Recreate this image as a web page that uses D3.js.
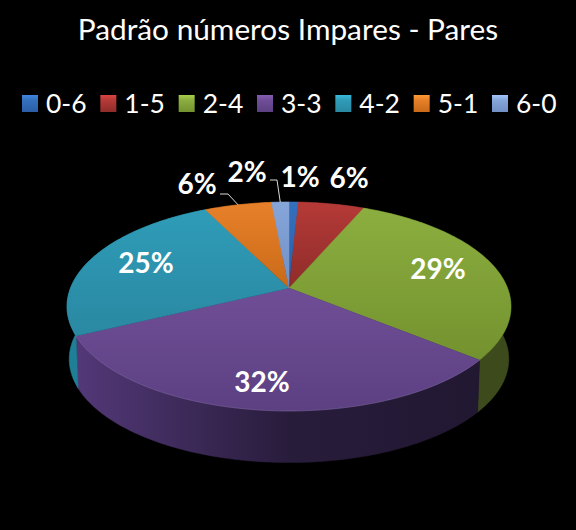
<!DOCTYPE html>
<html>
<head>
<meta charset="utf-8">
<script src="https://d3js.org/d3.v7.min.js"></script>
<style>
    html, body { margin: 0; padding: 0; background: #000; overflow: hidden; }
    text { font-family: Lato, "Open Sans", sans-serif; fill: #fff; }
</style>
</head>
<body>
<svg id="chart" width="576" height="530"></svg>
<script>
var categories = ['0-6', '1-5', '2-4', '3-3', '4-2', '5-1', '6-0'];
var values = [0.8, 5.7, 29.4, 31.9, 24.9, 5.8, 1.5];
var labels = ['1%', '6%', '29%', '32%', '25%', '6%', '2%'];

var topLight = ['#3570bd', '#b53a37', '#8cae3f', '#704e97', '#2f9cb8', '#e8802a', '#86a6da'];
var topDark = ['#2a5ea6', '#8e2c2a', '#73922f', '#5c4082', '#2a88a2', '#c96a18', '#7090c6'];
var wallLeft = ['#1f4270', '#6e2624', '#4f6124', '#54397a', '#1f7f96', '#8f4e14', '#566f96'];
var wallRight = ['#1f4270', '#6e2624', '#3c4a1c', '#201730', '#1f7f96', '#8f4e14', '#566f96'];

var labelX = [300, 349, 438, 262, 146, 197, 247];
var labelY = [187, 188, 279, 392, 273, 194, 182];

var width = 576, height = 530;
var cx = 289, cy = 288;
var radiusX = 218.5, radiusY = 101.2, tilt = 0.177;
var depth = 52.8, bottomScale = 0.99;

var svg = d3.select('#chart');
var defs = svg.append('defs');

svg.append('rect')
    .attr('width', width)
    .attr('height', height)
    .attr('fill', '#000');

// circle in the pie plane -> screen, with the front of the disc closer to the viewer
function project(angle, r) {
    var u = Math.sin(angle) * r;
    var v = -Math.cos(angle) * r;
    var w = 1 - tilt * v;
    return [cx + radiusX * u / w, cy + radiusY * v / w];
}

function lower(p) {
    return [cx + (p[0] - cx) * bottomScale, cy + (p[1] - cy) * bottomScale + depth];
}

function arcPoints(d) {
    var n = Math.max(4, Math.ceil((d.endAngle - d.startAngle) * 60));
    var angle = d3.scaleLinear().domain([0, n]).range([d.startAngle, d.endAngle]);
    return d3.range(n + 1).map(function(i) { return project(angle(i), 1); });
}

var line = d3.line();

var pie = d3.pie()
    .sort(null)
    .value(function(d) { return d; });

var slices = pie(values);

// gradients
categories.forEach(function(c, i) {
    var top = defs.append('linearGradient')
        .attr('id', 'top' + i)
        .attr('x1', 0).attr('x2', 0).attr('y1', 0).attr('y2', 1);
    top.append('stop').attr('offset', '0').attr('stop-color', topLight[i]);
    top.append('stop').attr('offset', '1').attr('stop-color', topDark[i]);

    var wall = defs.append('linearGradient')
        .attr('id', 'wall' + i)
        .attr('gradientUnits', 'userSpaceOnUse')
        .attr('x1', 70).attr('x2', 510).attr('y1', 0).attr('y2', 0);
    wall.append('stop').attr('offset', '0').attr('stop-color', wallLeft[i]);
    wall.append('stop').attr('offset', '0.5').attr('stop-color', d3.interpolateRgb(wallLeft[i], wallRight[i])(0.85));
    wall.append('stop').attr('offset', '1').attr('stop-color', wallRight[i]);

    var box = defs.append('linearGradient')
        .attr('id', 'box' + i)
        .attr('x1', 0).attr('x2', 0).attr('y1', 0).attr('y2', 1);
    box.append('stop').attr('offset', '0').attr('stop-color', d3.color(topLight[i]).brighter(0.5));
    box.append('stop').attr('offset', '0.3').attr('stop-color', topLight[i]);
    box.append('stop').attr('offset', '1').attr('stop-color', topDark[i]);
});

// side walls
svg.selectAll('.wall')
    .data(slices)
    .enter().append('path')
    .attr('class', 'wall')
    .attr('d', function(d) {
        var pts = arcPoints(d);
        return line(pts.concat(pts.slice().reverse().map(lower))) + 'Z';
    })
    .attr('fill', function(d, i) { return 'url(#wall' + i + ')'; })
    .attr('stroke', function(d, i) { return 'url(#wall' + i + ')'; })
    .attr('stroke-width', 0.5);

// top of the pie
svg.selectAll('.slice')
    .data(slices)
    .enter().append('path')
    .attr('class', 'slice')
    .attr('d', function(d) {
        return line([[cx, cy]].concat(arcPoints(d))) + 'Z';
    })
    .attr('fill', function(d, i) { return 'url(#top' + i + ')'; })
    .attr('stroke', function(d, i) { return 'url(#top' + i + ')'; })
    .attr('stroke-width', 0.4);

// light rim along the front edge of the purple slice
svg.append('path')
    .attr('d', line(arcPoints(slices[3])))
    .attr('fill', 'none')
    .attr('stroke', '#9f86c4')
    .attr('stroke-opacity', 0.4)
    .attr('stroke-width', 0.8);

// leader lines
var leaders = [
    {slice: 5, from: [220, 194], knee: [228, 194]},
    {slice: 6, from: [270, 180], knee: [277, 180]}
];

svg.selectAll('.leader')
    .data(leaders)
    .enter().append('path')
    .attr('class', 'leader')
    .attr('d', function(d) {
        var s = slices[d.slice];
        var end = project((s.startAngle + s.endAngle) / 2, 1);
        return line([d.from, d.knee, end]);
    })
    .attr('fill', 'none')
    .attr('stroke', '#d9d9d9')
    .attr('stroke-width', 1);

// slice labels
svg.selectAll('.label')
    .data(labels)
    .enter().append('text')
    .attr('class', 'label')
    .attr('x', function(d, i) { return labelX[i]; })
    .attr('y', function(d, i) { return labelY[i]; })
    .attr('text-anchor', 'middle')
    .style('font-size', '28px')
    .style('font-weight', 700)
    .text(function(d) { return d; });

// title
svg.append('text')
    .attr('x', 288)
    .attr('y', 40)
    .attr('text-anchor', 'middle')
    .style('font-size', '29.8px')
    .text('Padrão números Impares - Pares');

// legend
var legendX = d3.scalePoint()
    .domain(categories)
    .range([22, 492]);

var legend = svg.selectAll('.legend')
    .data(categories)
    .enter().append('g')
    .attr('class', 'legend')
    .attr('transform', function(d) { return 'translate(' + legendX(d) + ',95)'; });

legend.append('rect')
    .attr('width', 16)
    .attr('height', 17)
    .attr('fill', function(d, i) { return 'url(#box' + i + ')'; });

legend.append('text')
    .attr('x', 24)
    .attr('y', 18)
    .style('font-size', '26.5px')
    .text(function(d) { return d; });
</script>
</body>
</html>
